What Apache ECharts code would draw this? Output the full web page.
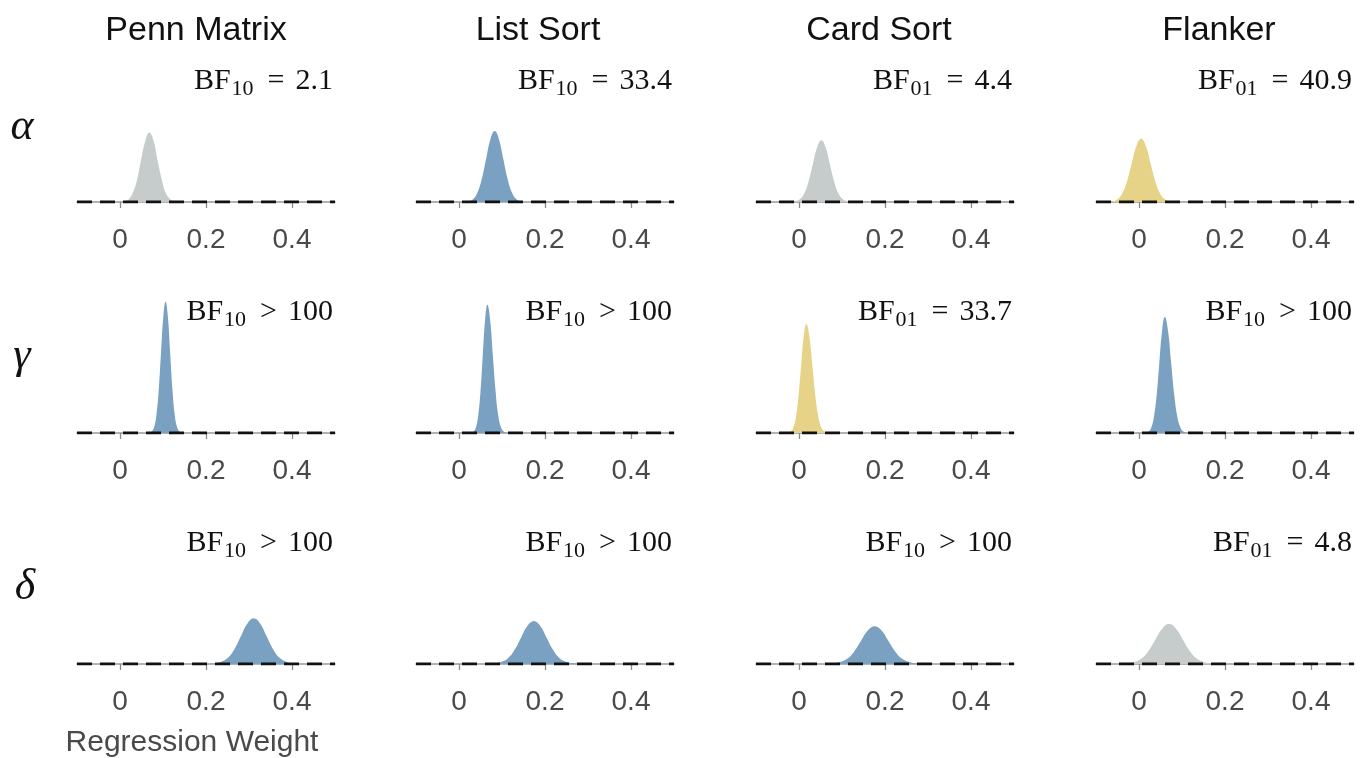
<!DOCTYPE html>
<html><head><meta charset="utf-8">
<script src="https://cdn.jsdelivr.net/npm/echarts@6/dist/echarts.min.js"></script>
<style>html,body{margin:0;padding:0;background:#fff}#c{width:1371px;height:758px}</style>
</head><body><div id="c"></div>
<script>
// ---------- data ----------
const columns = ['Penn Matrix', 'List Sort', 'Card Sort', 'Flanker'];
const rowSymbols = ['α', 'γ', 'δ'];
const xTickValues = [0, 0.2, 0.4];
const xRange = [-0.1, 0.5];
const xAxisTitle = 'Regression Weight';

// Bayes factor labels (row by row, column by column)
const bfSubscripts = ['10', '10', '01', '01',  '10', '10', '01', '10',  '10', '10', '10', '01'];
const bfOperators  = ['=', '=', '=', '=',  '>', '>', '=', '>',  '>', '>', '>', '='];
const bfNumbers    = ['2.1', '33.4', '4.4', '40.9',  '100', '100', '33.7', '100',  '100', '100', '100', '4.8'];
// evidence class: 'h1' (blue), 'h0' (yellow), 'none' (grey)
const evidence     = ['none', 'h1', 'none', 'h0',  'h1', 'h1', 'h0', 'h1',  'h1', 'h1', 'h1', 'none'];

// posterior densities [x, density]
const pennAlpha = [[0.002,0],[0.011,0.23],[0.021,0.90],[0.030,2.76],[0.040,6.62],[0.049,12.37],[0.059,18.0],[0.068,20.4],[0.078,18.0],[0.087,12.37],[0.097,6.62],[0.106,2.76],[0.116,0.90],[0.125,0.23],[0.135,0]];
const listAlpha = [[0.013,0],[0.023,0.23],[0.033,0.91],[0.043,2.81],[0.053,6.75],[0.063,12.62],[0.073,18.36],[0.083,20.8],[0.093,18.36],[0.103,12.62],[0.113,6.75],[0.123,2.81],[0.133,0.91],[0.143,0.23],[0.153,0]];
const cardAlpha = [[-0.018,0],[-0.008,0.20],[0.002,0.79],[0.012,2.45],[0.022,5.88],[0.032,10.98],[0.042,15.97],[0.052,18.1],[0.062,15.97],[0.072,10.98],[0.082,5.88],[0.092,2.45],[0.102,0.79],[0.112,0.20],[0.122,0]];
const flankerAlpha = [[-0.072,0],[-0.061,0.21],[-0.050,0.82],[-0.039,2.52],[-0.028,6.04],[-0.017,11.28],[-0.006,16.41],[0.005,18.6],[0.016,16.41],[0.027,11.28],[0.038,6.04],[0.049,2.52],[0.060,0.82],[0.071,0.21],[0.082,0]];

const pennGamma = [[0.0686,0],[0.0739,0.43],[0.0793,1.69],[0.0846,5.22],[0.0900,12.53],[0.0953,23.41],[0.1007,34.06],[0.106,38.6],[0.1114,34.06],[0.1167,23.41],[0.1221,12.53],[0.1274,5.22],[0.1328,1.69],[0.1381,0.43],[0.1435,0]];
const listGamma = [[0.0286,0],[0.0339,0.42],[0.0393,1.65],[0.0446,5.09],[0.0500,12.21],[0.0553,22.80],[0.0607,33.18],[0.066,37.6],[0.0724,33.18],[0.0787,22.80],[0.0851,12.21],[0.0914,5.09],[0.0978,1.65],[0.1041,0.42],[0.1105,0]];
const cardGamma = [[-0.0261,0],[-0.0199,0.36],[-0.0138,1.40],[-0.0076,4.33],[-0.0015,10.39],[0.0047,19.41],[0.0109,28.24],[0.017,32.0],[0.0242,28.24],[0.0313,19.41],[0.0385,10.39],[0.0456,4.33],[0.0528,1.40],[0.0599,0.36],[0.0671,0]];
const flankerGamma = [[0.0156,0],[0.0219,0.38],[0.0283,1.49],[0.0346,4.60],[0.0410,11.04],[0.0473,20.62],[0.0537,30.01],[0.060,34.0],[0.0674,30.01],[0.0747,20.62],[0.0821,11.04],[0.0894,4.60],[0.0968,1.49],[0.1041,0.38],[0.1115,0]];

const pennDelta = [[0.200,0],[0.217,0.17],[0.234,0.62],[0.251,1.85],[0.266,4.35],[0.281,8.13],[0.296,11.83],[0.311,13.4],[0.326,11.83],[0.341,8.13],[0.356,4.35],[0.371,1.85],[0.388,0.62],[0.405,0.17],[0.422,0]];
const listDelta = [[0.063,0],[0.080,0.16],[0.097,0.58],[0.114,1.72],[0.129,4.09],[0.144,7.64],[0.159,11.12],[0.174,12.6],[0.189,11.12],[0.204,7.64],[0.219,4.09],[0.234,1.72],[0.251,0.58],[0.268,0.16],[0.285,0]];
const cardDelta = [[0.058,0],[0.076,0.14],[0.094,0.52],[0.112,1.52],[0.128,3.60],[0.144,6.73],[0.160,9.80],[0.176,11.1],[0.192,9.80],[0.208,6.73],[0.224,3.60],[0.240,1.52],[0.258,0.52],[0.276,0.14],[0.294,0]];
const flankerDelta = [[-0.048,0],[-0.030,0.15],[-0.012,0.54],[0.006,1.60],[0.022,3.80],[0.038,7.10],[0.054,10.33],[0.070,11.7],[0.086,10.33],[0.102,7.10],[0.118,3.80],[0.134,1.60],[0.152,0.54],[0.170,0.15],[0.188,0]];

const panels = [pennAlpha, listAlpha, cardAlpha, flankerAlpha,
                pennGamma, listGamma, cardGamma, flankerGamma,
                pennDelta, listDelta, cardDelta, flankerDelta];

// ---------- styling / layout ----------
const colorMap = { h1: '#7aa0c2', h0: '#e6d387', none: '#c6cccb' };
const gridLefts = [77, 416, 756, 1096];
const gridWidth = 258;
const baselines = [202, 433, 664];
const gridHeight = 150;
const yMax = 44;

const grids = [], xAxes = [], yAxes = [], series = [], titles = [];
const sansFont = '"Liberation Sans", Arial, Helvetica, sans-serif';
const serifFont = '"Liberation Serif", "Times New Roman", serif';

for (let r = 0; r < 3; r++) {
  for (let c = 0; c < 4; c++) {
    const i = r * 4 + c;
    grids.push({ left: gridLefts[c], width: gridWidth, top: baselines[r] - gridHeight, height: gridHeight, containLabel: false });
    xAxes.push({
      gridIndex: i, type: 'value', min: xRange[0], max: xRange[1],
      axisLine: { show: true, lineStyle: { color: '#999999', width: 1.5 } },
      axisTick: { show: true, customValues: xTickValues, length: 6, lineStyle: { color: '#8a8a8a', width: 1.3 } },
      axisLabel: { show: true, customValues: xTickValues, margin: 24, fontSize: 28, color: '#4a4a4a', fontFamily: sansFont,
                   formatter: v => String(Math.round(v * 10) / 10) },
      splitLine: { show: false }
    });
    yAxes.push({ gridIndex: i, type: 'value', min: 0, max: yMax, show: false });
    series.push({
      type: 'line', xAxisIndex: i, yAxisIndex: i, data: panels[i],
      smooth: 0.45, symbol: 'none', silent: true,
      lineStyle: { width: 0 },
      areaStyle: { color: colorMap[evidence[i]], opacity: 1 },
      z: 2
    });
    series.push({
      type: 'line', xAxisIndex: i, yAxisIndex: i, data: [[xRange[0], 0], [xRange[1], 0]],
      symbol: 'none', silent: true,
      lineStyle: { color: '#111', width: 3, type: [15, 8] },
      z: 3
    });
    // Bayes factor label
    titles.push({
      left: gridLefts[c] + gridWidth - 2, top: baselines[r] - 136, textAlign: 'right', padding: 0,
      text: '{b|BF}{s|' + bfSubscripts[i] + '}{o|' + bfOperators[i] + '}{b|' + bfNumbers[i] + '}',
      textStyle: { fontWeight: 'normal', rich: {
        b: { fontFamily: serifFont, fontSize: 30, fontWeight: 'normal', color: '#111', lineHeight: 32, verticalAlign: 'top' },
        o: { fontFamily: serifFont, fontSize: 30, fontWeight: 'normal', color: '#111', lineHeight: 32, verticalAlign: 'top', padding: [0, 11, 0, 14] },
        s: { fontFamily: serifFont, fontSize: 22, fontWeight: 'normal', color: '#111', lineHeight: 22, padding: [12, 0, 0, 1], verticalAlign: 'top' }
      } }
    });
  }
  titles.push({
    left: [22, 22, 25][r], top: [105, 334, 565][r], textAlign: 'center', padding: 0,
    text: rowSymbols[r],
    textStyle: { fontFamily: serifFont, fontStyle: 'italic', fontSize: 44, color: '#111', fontWeight: 'normal' }
  });
}
const colCenters = [196, 538, 879, 1219];
columns.forEach((name, c) => {
  titles.push({ left: colCenters[c], top: 14, textAlign: 'center', padding: 0, text: name,
    textStyle: { fontFamily: sansFont, fontSize: 34, color: '#111', fontWeight: 'normal' } });
});
titles.push({ left: 192, top: 728, textAlign: 'center', padding: 0, text: xAxisTitle,
  textStyle: { fontFamily: sansFont, fontSize: 30, color: '#4a4a4a', fontWeight: 'normal' } });

const chart = echarts.init(document.getElementById('c'), null, { renderer: 'canvas' });
chart.setOption({
  backgroundColor: '#ffffff',
  animation: false,
  title: titles,
  grid: grids,
  xAxis: xAxes,
  yAxis: yAxes,
  series: series
});
</script>
</body></html>
